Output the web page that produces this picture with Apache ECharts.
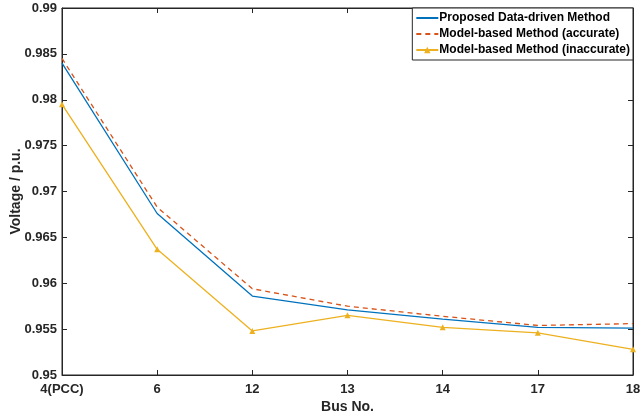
<!DOCTYPE html>
<html>
<head>
<meta charset="utf-8">
<script src="https://cdn.jsdelivr.net/npm/echarts@6/dist/echarts.min.js"></script>
<style>
  html, body { margin: 0; padding: 0; background: #fff; }
  #chart { width: 641px; height: 419px; }
</style>
</head>
<body>
<div id="chart"></div>
<script>
// bus numbers along the feeder
const buses = ['4(PCC)', '6', '12', '13', '14', '17', '18']

// voltage profiles (p.u.)
const dataDriven = [0.9840, 0.9676, 0.9586, 0.9571, 0.9561, 0.9552, 0.9551]
const modelAccurate = [0.9845, 0.9683, 0.9594, 0.9575, 0.9564, 0.9554, 0.9556]
const modelInaccurate = [0.9795, 0.9637, 0.9548, 0.9565, 0.9552, 0.9546, 0.9528]

const yTicks = { min: 0.95, max: 0.99, step: 0.005 }

const textColor = '#262626'
const fontFamily = 'Liberation Sans, Arial, sans-serif'

const chart = echarts.init(document.getElementById('chart'))

const tickInside = { show: true, inside: true, length: 5, lineStyle: { color: textColor } }

const option = {
  animation: false,
  textStyle: { fontFamily: fontFamily },
  grid: {
    left: 62,
    right: 8,
    top: 8,
    bottom: 44,
    outerBoundsMode: 'none',
    containLabel: false,
    show: true,
    borderColor: textColor,
    borderWidth: 1
  },
  legend: {
    orient: 'vertical',
    right: 8,
    top: 8,
    itemWidth: 22,
    itemHeight: 8,
    itemGap: 4,
    padding: [4, 3, 4, 3],
    backgroundColor: '#fff',
    borderColor: textColor,
    borderWidth: 1,
    textStyle: {
      color: '#000',
      fontSize: 12,
      fontWeight: 'bold',
      padding: [0, 0, 0, -4]
    },
    data: [
      { name: 'Proposed Data-driven Method', itemStyle: { opacity: 0 } },
      { name: 'Model-based Method (accurate)', itemStyle: { opacity: 0 } },
      { name: 'Model-based Method (inaccurate)' }
    ]
  },
  xAxis: [
    {
      type: 'category',
      data: buses,
      boundaryGap: false,
      name: 'Bus No.',
      nameLocation: 'middle',
      nameGap: 25,
      nameMoveOverlap: false,
      nameTextStyle: { color: textColor, fontSize: 14, fontWeight: 'bold' },
      axisLine: { lineStyle: { color: textColor } },
      axisTick: tickInside,
      axisLabel: { color: textColor, fontSize: 13, fontWeight: 'bold', margin: 8 },
      splitLine: { show: false }
    },
    {
      type: 'category',
      data: buses,
      boundaryGap: false,
      position: 'top',
      axisLine: { lineStyle: { color: textColor } },
      axisTick: tickInside,
      axisLabel: { show: false }
    }
  ],
  yAxis: [
    {
      type: 'value',
      min: yTicks.min,
      max: yTicks.max,
      interval: yTicks.step,
      name: 'Voltage / p.u.',
      nameLocation: 'middle',
      nameGap: 39,
      nameMoveOverlap: false,
      nameTextStyle: { color: textColor, fontSize: 14, fontWeight: 'bold' },
      axisLine: { show: true, lineStyle: { color: textColor } },
      axisTick: tickInside,
      axisLabel: {
        color: textColor,
        fontSize: 13,
        fontWeight: 'bold',
        margin: 5,
        formatter: v => String(+v.toFixed(3))
      },
      splitLine: { show: false }
    },
    {
      type: 'value',
      min: yTicks.min,
      max: yTicks.max,
      interval: yTicks.step,
      position: 'right',
      axisLine: { show: true, lineStyle: { color: textColor } },
      axisTick: tickInside,
      axisLabel: { show: false },
      splitLine: { show: false }
    }
  ],
  series: [
    {
      name: 'Proposed Data-driven Method',
      type: 'line',
      data: dataDriven,
      symbol: 'none',
      lineStyle: { color: '#0072BD', width: 1.3 },
      itemStyle: { color: '#0072BD' }
    },
    {
      name: 'Model-based Method (accurate)',
      type: 'line',
      data: modelAccurate,
      symbol: 'none',
      lineStyle: { color: '#D95319', width: 1.3, type: [5, 4] },
      itemStyle: { color: '#D95319' }
    },
    {
      name: 'Model-based Method (inaccurate)',
      type: 'line',
      data: modelInaccurate,
      symbol: 'triangle',
      symbolSize: 6,
      lineStyle: { color: '#EDB120', width: 1.3 },
      itemStyle: { color: '#EDB120' }
    }
  ]
}

chart.setOption(option)
</script>
</body>
</html>
